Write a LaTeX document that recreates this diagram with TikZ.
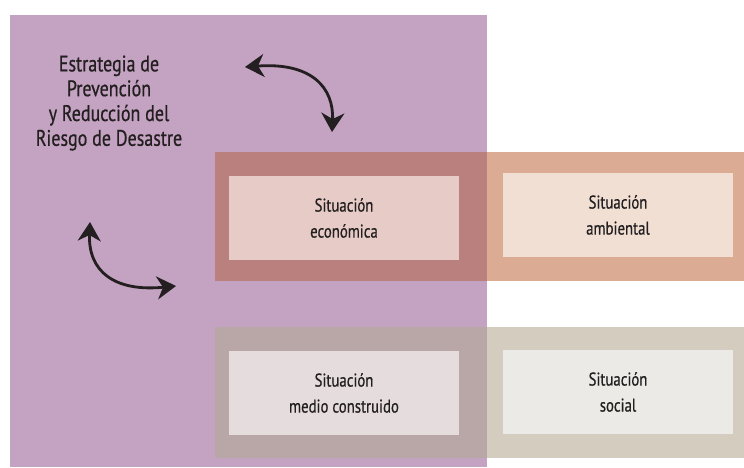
\documentclass[tikz,border=0pt]{standalone}
\usepackage{fontspec}
\setmainfont[FakeStretch=0.8,FakeBold=0.6]{PT Sans}
\usetikzlibrary{arrows.meta}
\definecolor{purp}{HTML}{C4A2C1}
\definecolor{topov}{HTML}{BA807E}
\definecolor{topright}{HTML}{DBAB94}
\definecolor{econin}{HTML}{E7CBC6}
\definecolor{ambin}{HTML}{F1DFD4}
\definecolor{botov}{HTML}{B9A7A7}
\definecolor{botright}{HTML}{D3CCBF}
\definecolor{medin}{HTML}{E5DCDD}
\definecolor{socin}{HTML}{ECEAE6}
\definecolor{ink}{HTML}{231F20}
\begin{document}
\begin{tikzpicture}[x=1pt,y=-1pt,
  inbox/.style={minimum width=230pt,minimum height=84pt,inner sep=0pt,align=center,
    font=\fontsize{18.5}{26}\selectfont,text=ink},
  dblarrow/.style={ink,line width=2.8pt,{Stealth[length=19pt,width=23pt,inset=6pt]}-{Stealth[length=19pt,width=23pt,inset=6pt]}}]
\useasboundingbox (0,0) rectangle (744,467);
\fill[white] (0,0) rectangle (744,467);
% purple strategy area
\fill[purp] (10,15) rectangle (487,467);
% top band
\fill[topov] (215,152) rectangle (487,281);
\fill[topright] (487,152) rectangle (744,281);
% bottom band
\fill[botov] (215,327) rectangle (487,458);
\fill[botright] (487,327) rectangle (744,458);
% title
\node[font=\fontsize{22.5}{24.8}\selectfont,align=center,text=ink,inner sep=0pt] (title) at (109,103)
  {Estrategia de\\Prevención\\y Reducción del\\Riesgo de Desastre};
% inner boxes
\node[inbox,fill=econin] (econ) at (344,218) {Situación\\económica};
\node[inbox,fill=ambin] (amb) at (618,215) {Situación\\ambiental};
\node[inbox,fill=medin] (med) at (344,393) {Situación\\medio construido};
\node[inbox,fill=socin] (soc) at (618,392) {Situación\\social};
% arrows
\coordinate (a1s) at (245,67);
\coordinate (a1e) at (332,132);
\coordinate (a2s) at (90,222);
\coordinate (a2e) at (176,286);
\draw[dblarrow] (a1s) .. controls (312,62) and (334,88) .. (a1e);
\draw[dblarrow] (a2s) .. controls (88,272) and (115,292) .. (a2e);
\end{tikzpicture}
\end{document}
